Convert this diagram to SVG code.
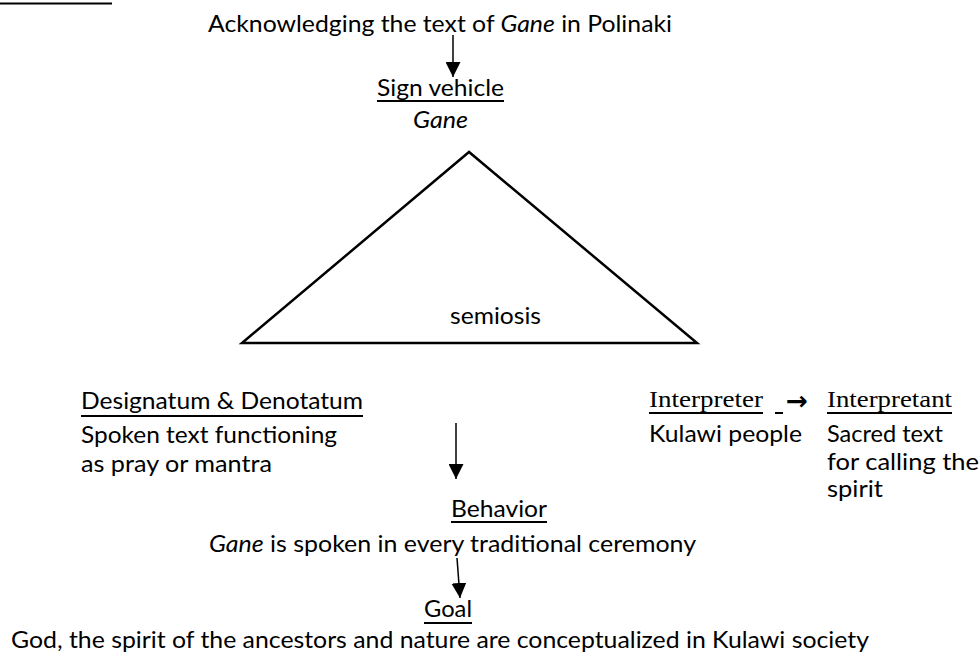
<svg xmlns="http://www.w3.org/2000/svg" width="980" height="655" viewBox="0 0 980 655">
<style>
.t{font-family:Lato,"Open Sans","Liberation Sans",sans-serif;font-size:23px;fill:#000}
.s{font-family:"Liberation Serif","Times New Roman",serif;font-size:24px;fill:#000}
.i{font-style:italic}
.u{stroke:#000;stroke-width:2;fill:none}
.c{stroke:#000;stroke-width:1.5;fill:none;marker-end:url(#ah)}
</style>
<defs>
<marker id="ah" viewBox="0 0 16 16" markerWidth="15" markerHeight="15" markerUnits="userSpaceOnUse" refX="16" refY="8" orient="auto">
<path d="M0,0 L16,8 L0,16 z" fill="#000"/>
</marker>
</defs>
<rect width="980" height="655" fill="#fff"/>
<line class="u" x1="0" y1="3.5" x2="112" y2="3.5"/>

<g id="source">
<text class="t" x="208" y="32" textLength="464" lengthAdjust="spacingAndGlyphs">Acknowledging the text of <tspan class="i">Gane</tspan> in Polinaki</text>
</g>

<g id="sign-vehicle">
<text class="t" x="377" y="96" textLength="127" lengthAdjust="spacingAndGlyphs">Sign vehicle</text>
<line class="u" x1="377" y1="101" x2="504" y2="101"/>
<text class="t i" x="413" y="128" textLength="55" lengthAdjust="spacingAndGlyphs">Gane</text>
</g>

<g id="semiosis">
<polygon points="469,152 242,343 697,343" fill="none" stroke="#000" stroke-width="2.5" stroke-linejoin="miter"/>
<text class="t" x="450" y="324" textLength="91" lengthAdjust="spacingAndGlyphs">semiosis</text>
</g>

<g id="designatum">
<text class="t" x="81" y="409" textLength="282" lengthAdjust="spacingAndGlyphs">Designatum &amp; Denotatum</text>
<line class="u" x1="81" y1="416" x2="363" y2="416"/>
<text class="t" x="81" y="443" textLength="256" lengthAdjust="spacingAndGlyphs">Spoken text functioning</text>
<text class="t" x="81" y="472" textLength="191" lengthAdjust="spacingAndGlyphs">as pray or mantra</text>
</g>

<g id="interpreter">
<text class="s" x="649" y="407" textLength="114" lengthAdjust="spacingAndGlyphs">Interpreter</text>
<line class="u" x1="649" y1="413" x2="763" y2="413"/>
<line class="u" x1="775" y1="413" x2="783" y2="413"/>
<text class="t" x="649" y="442" textLength="153" lengthAdjust="spacingAndGlyphs">Kulawi people</text>
</g>

<g id="interpretant">
<text class="s" x="827" y="407" textLength="125" lengthAdjust="spacingAndGlyphs">Interpretant</text>
<line class="u" x1="827" y1="413" x2="952" y2="413"/>
<text class="t" x="827" y="442" textLength="116" lengthAdjust="spacingAndGlyphs">Sacred text</text>
<text class="t" x="827" y="470" textLength="152" lengthAdjust="spacingAndGlyphs">for calling the</text>
<text class="t" x="827" y="497" textLength="56" lengthAdjust="spacingAndGlyphs">spirit</text>
</g>

<g id="behavior">
<text class="t" x="451" y="517" textLength="96" lengthAdjust="spacingAndGlyphs">Behavior</text>
<line class="u" x1="451" y1="522" x2="547" y2="522"/>
<text class="t" x="209" y="552" textLength="487" lengthAdjust="spacingAndGlyphs"><tspan class="i">Gane</tspan> is spoken in every traditional ceremony</text>
</g>

<g id="goal">
<text class="t" x="424" y="617" textLength="48" lengthAdjust="spacingAndGlyphs">Goal</text>
<line class="u" x1="424" y1="623" x2="472" y2="623"/>
<text class="t" x="11" y="648" textLength="858" lengthAdjust="spacingAndGlyphs">God, the spirit of the ancestors and nature are conceptualized in Kulawi society</text>
</g>

<g id="connectors">
<line class="c" x1="453" y1="35" x2="453" y2="77"/>
<line class="c" x1="456" y1="423" x2="456" y2="479"/>
<line class="c" x1="457" y1="558" x2="460" y2="598"/>
<text class="t" x="786" y="410" textLength="22" lengthAdjust="spacingAndGlyphs" style="font-family:'DejaVu Sans',sans-serif;font-size:26px;font-weight:bold">→</text>
</g>
</svg>
